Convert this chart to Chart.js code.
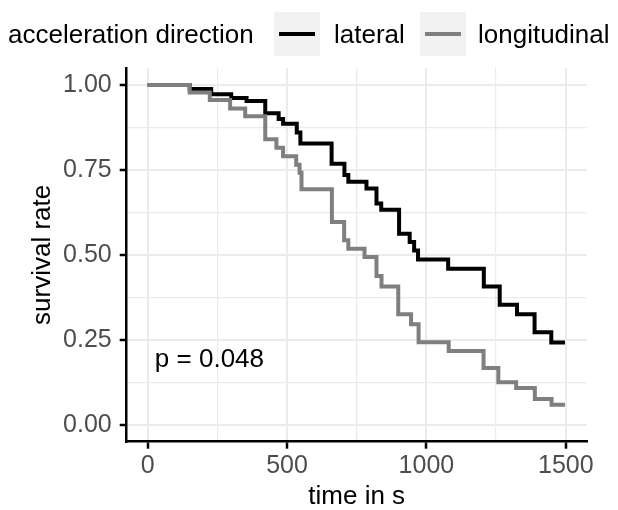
<!DOCTYPE html>
<html>
<head>
<meta charset="utf-8">
<title>survival by acceleration direction</title>
<script src="https://cdn.jsdelivr.net/npm/chart.js@4.4.1/dist/chart.umd.min.js"></script>
<style>
    body { margin: 0; background: #fff; }
    #wrap { position: relative; width: 618px; height: 510px; font-family: "Liberation Sans", Arial, sans-serif; }
    #legend span { position: absolute; top: 12px; line-height: 44px; font-size: 26px; color: #000; white-space: nowrap; }
    #legend .key { position: absolute; top: 12px; width: 46px; height: 44px; background: #F2F2F2; }
    #legend .key i { position: absolute; left: 5px; width: 36px; top: 20px; height: 4px; }
    canvas { position: absolute; left: 0; top: 0; }
</style>
</head>
<body>
<div id="wrap">
    <canvas id="survChart" width="618" height="510"></canvas>
    <div id="legend"></div>
</div>
<script>
// Kaplan-Meier steps (time in s, survival rate after the drop)
const lateralTime = [0, 151, 228, 300, 355, 422, 470, 486, 535, 548, 660, 706, 720, 785, 821, 838, 902, 940, 956, 970, 1078, 1206, 1263, 1325, 1388, 1448, 1497];
const lateralSurv = [1, 0.988, 0.973, 0.962, 0.953, 0.917, 0.900, 0.886, 0.860, 0.828, 0.768, 0.735, 0.715, 0.695, 0.651, 0.633, 0.562, 0.538, 0.513, 0.486, 0.459, 0.407, 0.353, 0.325, 0.272, 0.242, 0.242];

const longTime = [0, 151, 223, 296, 350, 422, 462, 486, 533, 545, 552, 661, 705, 720, 778, 821, 839, 899, 945, 972, 1080, 1205, 1258, 1322, 1389, 1449, 1497];
const longSurv = [1, 0.978, 0.956, 0.931, 0.908, 0.840, 0.815, 0.790, 0.765, 0.742, 0.693, 0.597, 0.543, 0.518, 0.494, 0.438, 0.407, 0.325, 0.296, 0.243, 0.217, 0.167, 0.125, 0.108, 0.076, 0.059, 0.059];

const seriesNames = ['lateral', 'longitudinal'];
const seriesColors = ['#000000', '#7F7F7F'];
const legendTitle = 'acceleration direction';

const xTicks = [0, 500, 1000, 1500];
const xMinor = [250, 750, 1250];
const yTicks = [0, 0.25, 0.5, 0.75, 1];
const yMinor = [0.125, 0.375, 0.625, 0.875];
const yTickLabels = ['0.00', '0.25', '0.50', '0.75', '1.00'];

const pText = 'p = 0.048';
const pAt = [26, 0.171];

const FONT = '"Liberation Sans", Arial, sans-serif';

// legend, ggplot style (title on the left, grey key boxes)
const legendEl = document.getElementById('legend');
legendEl.innerHTML = `
    <span style="left:8px">${legendTitle}</span>
    <div class="key" style="left:274px"><i style="background:${seriesColors[0]}"></i></div>
    <span style="left:334px">${seriesNames[0]}</span>
    <div class="key" style="left:420px"><i style="background:${seriesColors[1]}"></i></div>
    <span style="left:478px">${seriesNames[1]}</span>
`;

const toPoints = (t, s) => t.map((v, i) => ({ x: v, y: s[i] }));

const gridOpts = (major) => ({
    color: '#EBEBEB',
    lineWidth: c => major.includes(c.tick.value) ? 2 : 1.2,
    tickColor: c => major.includes(c.tick.value) ? '#000' : 'rgba(0,0,0,0)',
    tickWidth: 2.5,
    tickLength: 7
});

const pValuePlugin = {
    id: 'pValue',
    afterDatasetsDraw(chart) {
        const { ctx, scales: { x, y } } = chart;
        ctx.save();
        ctx.font = '26px ' + FONT;
        ctx.fillStyle = '#000';
        ctx.textAlign = 'left';
        ctx.textBaseline = 'alphabetic';
        ctx.fillText(pText, x.getPixelForValue(pAt[0]), y.getPixelForValue(pAt[1]));
        ctx.restore();
    }
};

new Chart(document.getElementById('survChart'), {
    type: 'line',
    data: {
        datasets: [
            {
                label: seriesNames[0],
                data: toPoints(lateralTime, lateralSurv),
                borderColor: seriesColors[0],
                borderWidth: 4,
                stepped: 'before',
                pointRadius: 0,
                borderCapStyle: 'butt',
                borderJoinStyle: 'miter',
                order: 1
            },
            {
                label: seriesNames[1],
                data: toPoints(longTime, longSurv),
                borderColor: seriesColors[1],
                borderWidth: 4,
                stepped: 'before',
                pointRadius: 0,
                borderCapStyle: 'butt',
                borderJoinStyle: 'miter',
                order: 0
            }
        ]
    },
    options: {
        responsive: false,
        animation: false,
        devicePixelRatio: 1,
        layout: { padding: { top: 68, right: 31.3, bottom: 0, left: 0 } },
        plugins: { legend: { display: false }, tooltip: { enabled: false } },
        scales: {
            x: {
                type: 'linear',
                min: -75,
                max: 1575,
                afterBuildTicks: s => { s.ticks = [...xTicks, ...xMinor].sort((a, b) => a - b).map(v => ({ value: v })); },
                afterFit: s => { s.height = 68.3; },
                grid: gridOpts(xTicks),
                border: { color: '#000', width: 2.5 },
                ticks: {
                    autoSkip: false,
                    maxRotation: 0,
                    padding: 5,
                    color: '#4D4D4D',
                    font: { family: FONT, size: 25, lineHeight: 1 },
                    callback: v => xTicks.includes(v) ? String(v) : ''
                },
                title: {
                    display: true,
                    text: 'time in s',
                    color: '#000',
                    padding: { top: 0, bottom: 0 },
                    font: { family: FONT, size: 26, lineHeight: 1 }
                }
            },
            y: {
                type: 'linear',
                min: -0.05,
                max: 1.05,
                afterBuildTicks: s => { s.ticks = [...yTicks, ...yMinor].sort((a, b) => a - b).map(v => ({ value: v })); },
                afterFit: s => { s.width = 126.7; },
                grid: gridOpts(yTicks),
                border: { color: '#000', width: 2.5 },
                ticks: {
                    autoSkip: false,
                    padding: 8,
                    color: '#4D4D4D',
                    font: { family: FONT, size: 25, lineHeight: 1 },
                    callback: v => {
                        const i = yTicks.indexOf(v);
                        return i >= 0 ? yTickLabels[i] : '';
                    }
                },
                title: {
                    display: true,
                    text: 'survival rate',
                    color: '#000',
                    padding: { top: 30, bottom: 0 },
                    font: { family: FONT, size: 26, lineHeight: 1 }
                }
            }
        }
    },
    plugins: [pValuePlugin]
});
</script>
</body>
</html>
